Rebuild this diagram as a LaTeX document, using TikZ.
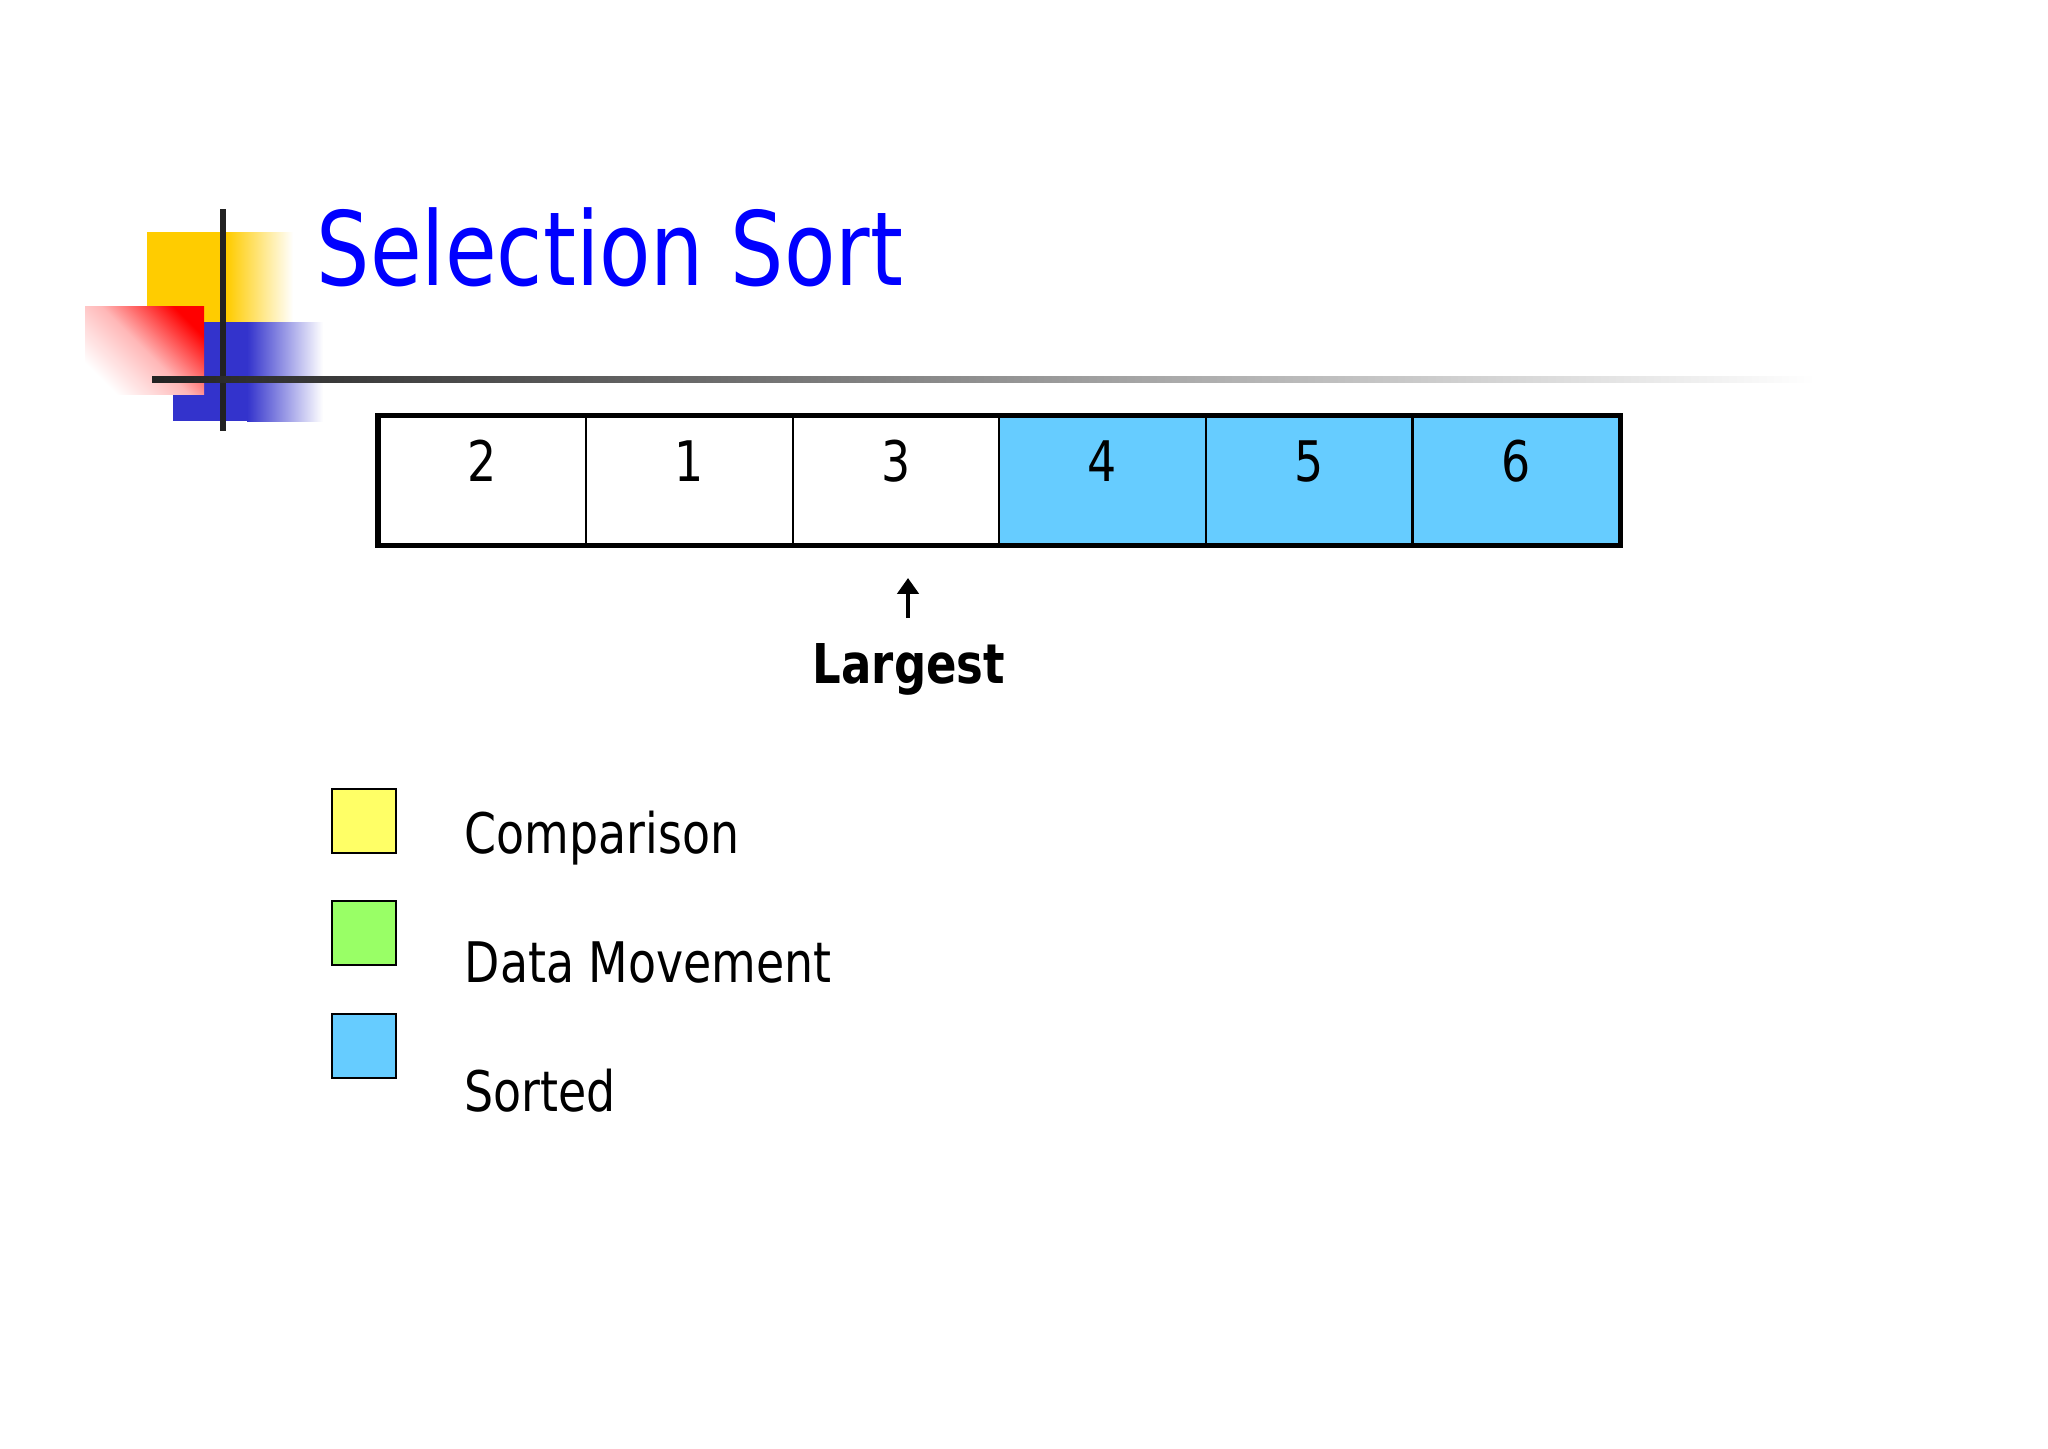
\documentclass[tikz,border=0pt]{standalone}
\usepackage{fontspec}
\setmainfont{DejaVu Sans}[FakeStretch=0.82]
\usetikzlibrary{arrows.meta}
\definecolor{titleblue}{HTML}{0000FF}
\definecolor{sortblue}{HTML}{66CCFF}
\definecolor{cmpyellow}{HTML}{FFFF66}
\definecolor{movgreen}{HTML}{99FF66}
\definecolor{logoyellow}{HTML}{FFCC00}
\definecolor{logoblue}{HTML}{3333CC}
\definecolor{logored}{HTML}{FF0000}
\definecolor{logopink}{HTML}{FFB8B8}
\definecolor{linedark}{HTML}{222222}
\tikzset{
  cell/.style={draw=black, line width=0.55pt, minimum width=2.067cm, minimum height=1.28cm, inner sep=0pt, anchor=center},
  num/.style={anchor=base, font=\fontsize{15.9}{18}\selectfont},
  legbox/.style={draw=black, line width=0.6pt, minimum width=0.64cm, minimum height=0.64cm, inner sep=0pt},
  legtext/.style={anchor=base west, font=\fontsize{15.9}{18}\selectfont, inner sep=0pt},
  arr/.style={-{Triangle[width=6pt,length=4.5pt]}, line width=1.1pt},
}
\begin{document}
\begin{tikzpicture}[x=0.01cm, y=-0.01cm]
\useasboundingbox[fill=white] (0,0) rectangle (2048,1448);
% logo
\fill[logoyellow] (147,232) rectangle (227,322);
\shade[left color=logoyellow, right color=white] (227,232) rectangle (293,322);
\fill[logoblue] (173,322) rectangle (247,421);
\shade[left color=logoblue, right color=white] (247,322) rectangle (323,421);
\shade[top color=logored, bottom color=white, middle color=logopink, shading angle=-45] (85,306) rectangle (204,394);
\fill[linedark] (220,209) rectangle (226,431);
\shade[left color=linedark, right color=white] (152,376) rectangle (1815,382);
% title
\node[anchor=base west, inner sep=0pt, text=titleblue, font=\fontsize{29.15}{32}\selectfont] (title) at (316,285) {Selection Sort};
% array cells
\node[cell] (c1) at (482.5,480.5) {};
\node[cell] (c2) at (689.5,480.5) {};
\node[cell] (c3) at (896,480.5) {};
\node[cell, fill=sortblue] (c4) at (1102.5,480.5) {};
\node[cell, fill=sortblue] (c5) at (1309,480.5) {};
\node[cell, fill=sortblue] (c6) at (1516,480.5) {};
\draw[line width=1.6pt] (c1.north west) rectangle (c6.south east);
\node[num] (n1) at (482.5,481) {2};
\node[num] (n2) at (689.5,481) {1};
\node[num] (n3) at (896,481) {3};
\node[num] (n4) at (1102.5,481) {4};
\node[num] (n5) at (1309,481) {5};
\node[num] (n6) at (1516,481) {6};
% pointer
\node[anchor=base, inner sep=0pt, font=\bfseries\fontsize{15.6}{18}\selectfont] (largest) at (909,683) {Largest};
\coordinate (arrtail) at (908,618);
\coordinate (arrtip) at (908,578);
\draw[arr] (arrtail) -- (arrtip);
% legend
\node[legbox, fill=cmpyellow] (lg1) at (364,821) {};
\node[legbox, fill=movgreen] (lg2) at (364,933) {};
\node[legbox, fill=sortblue] (lg3) at (364,1046) {};
\node[legtext] (t1) at (464,853) {Comparison};
\node[legtext] (t2) at (464,982) {Data Movement};
\node[legtext] (t3) at (464,1111) {Sorted};
\end{tikzpicture}
\end{document}
